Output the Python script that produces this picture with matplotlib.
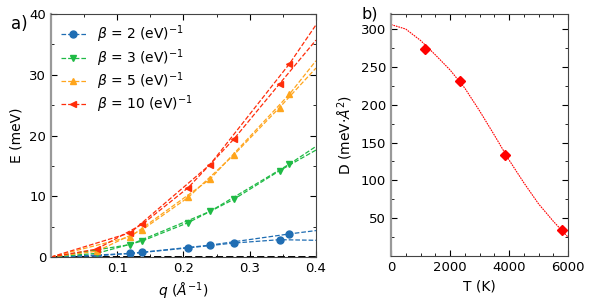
import matplotlib
matplotlib.use("Agg")
import matplotlib.pyplot as plt
from matplotlib.ticker import MultipleLocator

# panel a: two branches per beta, q in 1/A, E in meV
q_a = [0, 0.069, 0.138, 0.207, 0.276, 0.345, 0.4]
q_b = [0, 0.12, 0.24, 0.36, 0.4]
betas = [2, 3, 5, 10]
E_a = {
    2: [0, 0.2, 0.75, 1.5, 2.3, 2.85, 2.75],
    3: [0, 0.6, 2.65, 5.65, 9.5, 14.2, 17.6],
    5: [0, 0.95, 4.5, 9.8, 16.8, 24.6, 31.1],
    10: [0, 1.3, 5.4, 11.4, 19.4, 28.5, 35.7],
}
E_b = {
    2: [0, 0.58, 1.95, 3.8, 4.35],
    3: [0, 2.05, 7.5, 15.3, 18.2],
    5: [0, 3.35, 12.8, 26.8, 32.3],
    10: [0, 4.0, 15.2, 31.8, 38.2],
}
colors = {2: "#1f6db3", 3: "#1fba45", 5: "#ffa51c", 10: "#ff2d0a"}
markers = {2: "o", 3: "v", 5: "^", 10: "<"}

# panel b: spin stiffness vs temperature
T_pts = [1155, 2322, 3862, 5798]
D_pts = [273, 232, 134, 35]
T_fit = [0, 500, 1000, 1500, 2000, 2500, 3000, 3500, 4000, 4500, 5000, 5500, 6000]
D_fit = [306, 300, 285, 266, 246, 222, 192, 160, 127, 97, 69, 46, 25]

fig = plt.figure(figsize=(5.92, 3.03), dpi=100)
ax1 = fig.add_axes([0.0861, 0.1518, 0.4476, 0.802])
ax2 = fig.add_axes([0.6605, 0.155, 0.299, 0.799])

for b in betas:
    ax1.plot(q_a, E_a[b], "--", color=colors[b], lw=0.9, marker=markers[b],
             ms=5, markevery=[1, 2, 3, 4, 5], label=r"$\beta$ = %d (eV)$^{-1}$" % b)
    ax1.plot(q_b, E_b[b], "--", color=colors[b], lw=0.9, marker=markers[b],
             ms=5, markevery=[1, 2, 3])
ax1.axhline(0, color="k", ls="--", lw=1.4, zorder=0)

ax1.set_xlim(0, 0.4)
ax1.set_ylim(0, 40)
ax1.set_xticks([0.1, 0.2, 0.3, 0.4])
ax1.set_yticks([0, 10, 20, 30, 40])
ax1.xaxis.set_minor_locator(MultipleLocator(0.05))
ax1.yaxis.set_minor_locator(MultipleLocator(5))
ax1.set_xlabel(r"$q$ ($Å^{-1}$)", fontsize=10)
ax1.set_ylabel("E (meV)", fontsize=10)
ax1.legend(loc="upper left", frameon=False, fontsize=10, handlelength=1.8,
           handletextpad=0.8, borderaxespad=0.4, labelspacing=0.12,
           borderpad=0.3)

ax2.plot(T_fit, D_fit, color="red", ls=(0, (1.5, 0.8)), lw=0.8)
ax2.plot(T_pts, D_pts, "D", color="red", ms=5, ls="none")
ax2.set_xlim(0, 6000)
ax2.set_ylim(0, 320)
ax2.set_xticks([0, 2000, 4000, 6000])
ax2.set_yticks([50, 100, 150, 200, 250, 300])
ax2.xaxis.set_minor_locator(MultipleLocator(500))
ax2.yaxis.set_minor_locator(MultipleLocator(25))
ax2.set_xlabel("T (K)", fontsize=10)
ax2.set_ylabel(r"D (meV$\cdot Å^2$)", fontsize=10)

for ax in (ax1, ax2):
    ax.tick_params(which="both", direction="in", top=True, right=True, labelsize=9.5)
    ax.tick_params(which="major", length=4)
    ax.tick_params(which="minor", length=2.5)
    for s in ax.spines.values():
        s.set_color("#444444")
        s.set_linewidth(0.8)
    ax.spines["left"].set_color("#999999")
    ax.spines["left"].set_linewidth(1.6)

fig.text(0.018, 0.905, "a)", fontsize=12)
fig.text(0.61, 0.94, "b)", fontsize=11.5)

fig.savefig("out.png", dpi=100)
